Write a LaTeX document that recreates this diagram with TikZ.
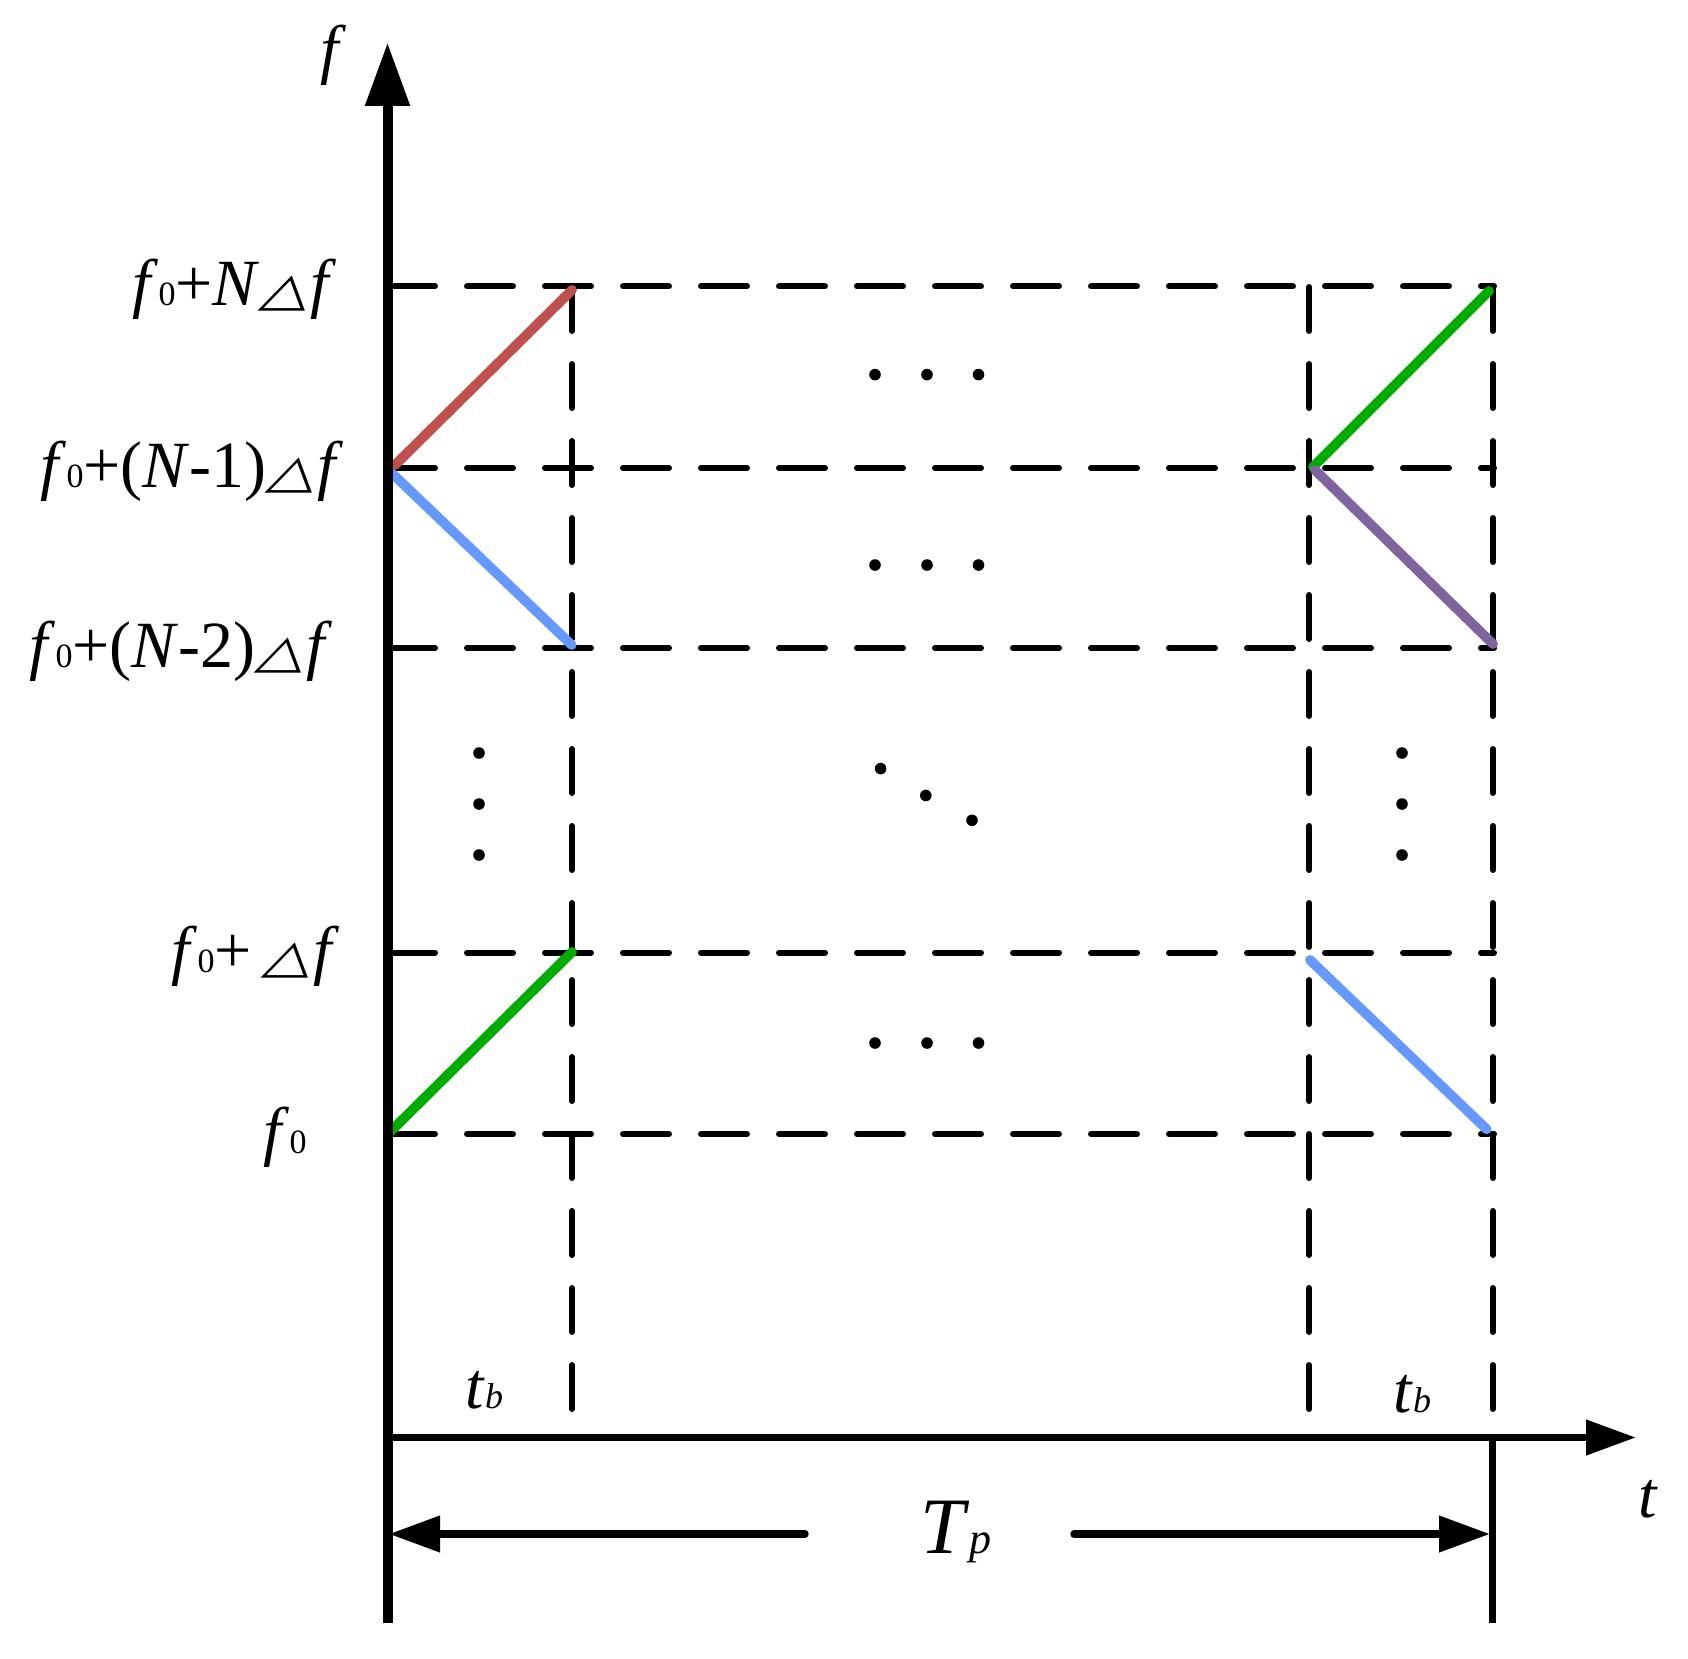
\documentclass[tikz,border=0pt]{standalone}
\usepackage{fontspec}
\setmainfont{Liberation Serif}
\newfontfamily\trifont[FakeSlant=0.3,FakeStretch=1.35]{DejaVu Sans}
\usetikzlibrary{arrows.meta}
\newcommand{\lblfont}{\fontsize{33}{38}\selectfont}
\newcommand{\subfont}{\fontsize{17}{17}\selectfont}
\newcommand{\fz}{\textit{f}{\subfont 0}}
\newcommand{\dtri}{{\trifont\fontsize{23}{23}\selectfont △}\kern1.5pt}
\definecolor{cred}{RGB}{192,80,77}
\definecolor{cblue}{RGB}{102,153,255}
\definecolor{cgreen}{RGB}{0,172,0}
\definecolor{cpurple}{RGB}{128,100,160}
\begin{document}
\begin{tikzpicture}[x=0.5pt,y=-0.5pt,
  grid/.style={line width=3pt, line cap=round},
  hgrid/.style={grid, dash pattern=on 23pt off 16pt},
  vgrid/.style={grid, dash pattern=on 22pt off 16.5pt},
  sweep/.style={line width=4.9pt, line cap=round},
  dotnode/.style={circle, fill=black, inner sep=0pt, minimum size=5.8pt},
  lbl/.style={font=\lblfont, inner sep=0pt},
]
\useasboundingbox (0,0) rectangle (1688,1659);
% axes coordinates
\coordinate (O) at (387.5,1437.5);
\coordinate (ytop) at (387.5,42.5);
\coordinate (ybot) at (387.5,1623);
\coordinate (xtip) at (1636,1437.5);
\coordinate (rtop) at (1492.5,1437.5);
\coordinate (rbot) at (1492.5,1623);
% horizontal dashed rows
\foreach \n/\y in {r0/1134, r1/952.7, r2/648, r3/468, r4/286.4}{
  \coordinate (\n a) at (389,\y);
  \coordinate (\n b) at (1494,\y);
  \draw[hgrid] (\n a) -- (\n b);
}
% vertical dashed columns
\foreach \n/\x in {c1/571.7, c2/1309.3, c3/1493}{
  \coordinate (\n a) at (\x,287);
  \coordinate (\n b) at (\x,1409);
  \draw[vgrid] (\n a) -- (\n b);
}
% colored sweeps
\coordinate (redA) at (395,465);   \coordinate (redB) at (572,290);
\coordinate (blA) at (392.7,474);  \coordinate (blB) at (571.7,645);
\coordinate (glA) at (388,1134);   \coordinate (glB) at (572,952);
\coordinate (grA) at (1313,467);   \coordinate (grB) at (1489,291);
\coordinate (puA) at (1315,470);   \coordinate (puB) at (1493,644);
\coordinate (brA) at (1310,960);   \coordinate (brB) at (1486.7,1129.3);
\draw[sweep, cred] (redA) -- (redB);
\draw[sweep, cblue] (blA) -- (blB);
\draw[sweep, cgreen] (glA) -- (glB);
\draw[sweep, cgreen] (grA) -- (grB);
\draw[sweep, cpurple] (puA) -- (puB);
\draw[sweep, cblue] (brA) -- (brB);
% axes
\draw[line width=5pt, -{Triangle[length=31.75pt,width=21.3pt]}] (ybot) -- (ytop);
\draw[line width=3.8pt, -{Triangle[length=25pt,width=17pt]}] (O) -- (xtip);
\draw[line width=3.2pt] (rtop) -- (rbot);
% Tp dimension arrows
\coordinate (tpL) at (805,1534);
\coordinate (tpLtip) at (389,1534);
\coordinate (tpR) at (1074,1534);
\coordinate (tpRtip) at (1490,1534);
\draw[line width=3.7pt, line cap=round, -{Triangle[length=25.5pt,width=17.5pt]}] (tpL) -- (tpLtip);
\draw[line width=3.7pt, line cap=round, -{Triangle[length=25.5pt,width=17.5pt]}] (tpR) -- (tpRtip);
% dots
\foreach \y/\k in {374.6/a, 565/b, 1043/c}{
  \foreach \x/\j in {875/1, 927/2, 978.5/3}{
    \node[dotnode] (h\k\j) at (\x,\y) {};
  }
}
\foreach \x/\k in {479/l, 1402/r}{
  \foreach \y/\j in {753/1, 804/2, 855/3}{
    \node[dotnode] (v\k\j) at (\x,\y) {};
  }
}
\node[dotnode] (d1) at (880.6,768.6) {};
\node[dotnode] (d2) at (925.8,795.5) {};
\node[dotnode] (d3) at (972,820.3) {};
% labels
\node[lbl, anchor=base east] (l4) at (337,305) {\fz+\textit{N}\dtri\textit{f}};
\node[lbl, anchor=base east] (l3) at (344,487) {\fz+(\textit{N}-1)\dtri\textit{f}};
\node[lbl, anchor=base east] (l2) at (333,667) {\fz+(\textit{N}-2)\dtri\textit{f}};
\node[lbl, anchor=base east] (l1) at (340,972) {\fz+\,\dtri\textit{f}};
\node[lbl, anchor=base east] (l0) at (307,1153) {\fz};
\node[lbl, anchor=base] (flab) at (333,72) {\textit{f}};
\node[lbl, anchor=base] (tlab) at (1648,1517) {\textit{t}};
\node[lbl, anchor=base west] (tb1) at (465,1408) {\textit{t}{\fontsize{18}{18}\selectfont\itshape b}};
\node[lbl, anchor=base west] (tb2) at (1393,1412) {\textit{t}{\fontsize{18}{18}\selectfont\itshape b}};
\node[inner sep=0pt, anchor=base west] (tp) at (920,1553) {{\fontsize{40}{42}\selectfont\textit{T}}{\fontsize{22}{22}\selectfont\textit{p}}};
\end{tikzpicture}
\end{document}
